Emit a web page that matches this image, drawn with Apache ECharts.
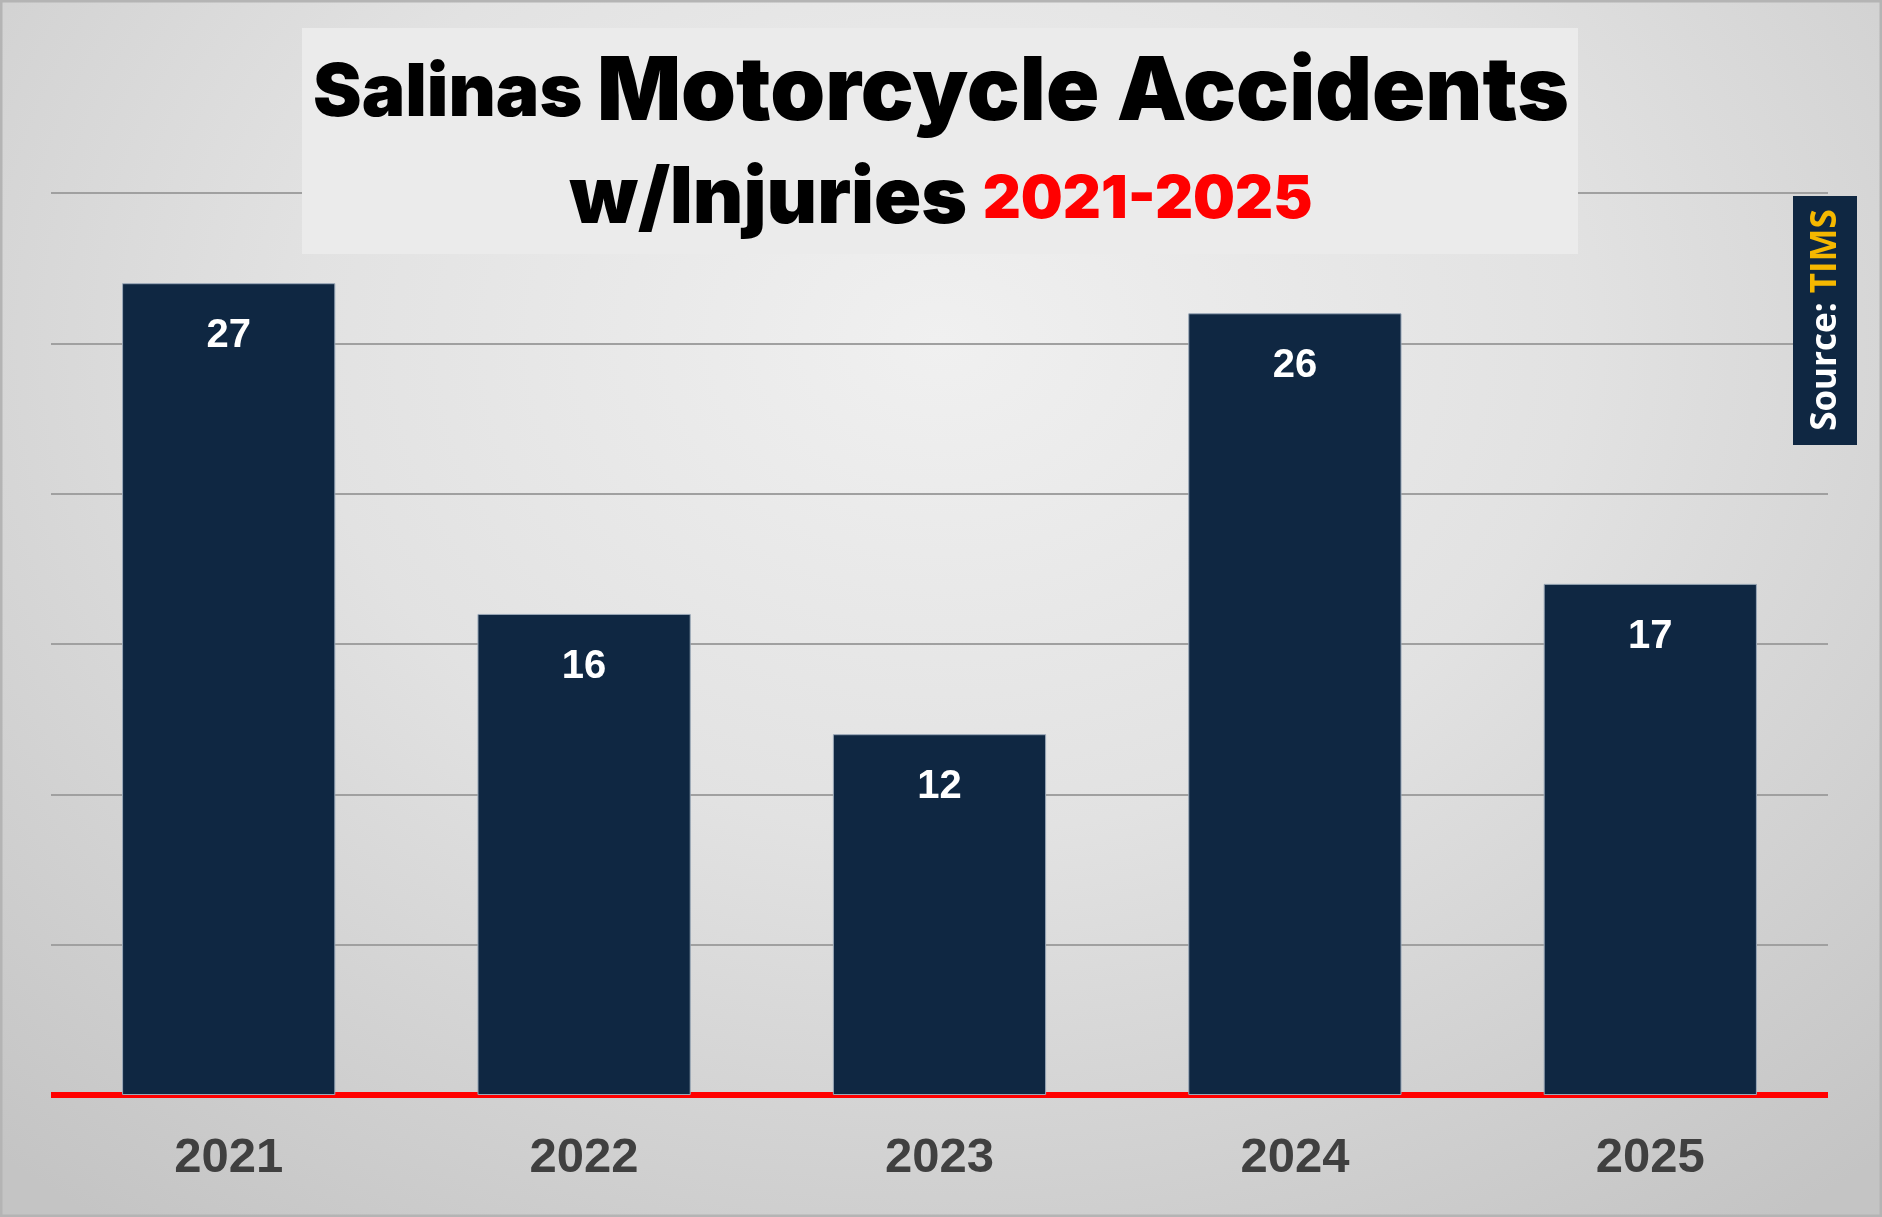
<!DOCTYPE html>
<html><head><meta charset="utf-8">
<script src="https://cdn.jsdelivr.net/npm/echarts@6/dist/echarts.min.js"></script>
<style>
html,body{margin:0;padding:0;}
body{width:1882px;height:1217px;overflow:hidden;
background:radial-gradient(ellipse 75% 90% at 50% 28%, #f0f0f0 0%, #e2e2e2 45%, #cfcfcf 80%, #c4c4c4 100%);}
#c{width:1882px;height:1217px;}
</style></head>
<body><div id="c"></div>
<script>
const categories = ['2021','2022','2023','2024','2025'];
const accidents = [27, 16, 12, 26, 17];
const yTicks = [0, 5, 10, 15, 20, 25, 30];

const chart = echarts.init(document.getElementById('c'), null, {renderer:'canvas'});
chart.setOption({
  backgroundColor: 'transparent',
  animation: false,
  title: {
    text: '{s|Salinas }{m|Motorcycle Accidents}\n{w|w/Injuries }{r|2021-2025}',
    left: 'center', top: 36, z: 10,
    textStyle: {
      rich: {
        s: {fontFamily:'Inter', fontWeight:900, fontSize:73, color:'#000', lineHeight:106},
        m: {fontFamily:'Inter', fontWeight:900, fontSize:88, color:'#000', lineHeight:106},
        w: {fontFamily:'Inter', fontWeight:900, fontSize:78, color:'#000', lineHeight:106},
        r: {fontFamily:'Inter', fontWeight:900, fontSize:59, color:'#ff0000', lineHeight:106}
      }
    }
  },
  graphic: [
    {type:'rect', z: 5, shape:{x:302, y:28, width:1276, height:226}, style:{fill:'#ebebeb'}},
    {type:'rect', z: 5, shape:{x:1793, y:196, width:64, height:249}, style:{fill:'#0f2742'}},
    {type:'text', z: 6, x:1826, y:320, rotation: Math.PI/2,
      style:{text:'{a|Source: }{b|TIMS}', align:'center', verticalAlign:'middle',
        rich:{a:{fill:'#ffffff', fontFamily:'Open Sans', fontWeight:'bold', fontSize:35},
              b:{fill:'#f5b800', fontFamily:'Open Sans', fontWeight:'bold', fontSize:35}}}},
    {type:'rect', z: 0, silent:true, shape:{x:1, y:1, width:1880, height:1215}, style:{fill:'none', stroke:'#b4b4b4', lineWidth:3}}
  ],
  grid: {left:51, right:54, top:193, bottom:122},
  xAxis: {
    type:'category', data: categories,
    axisLine:{show:true, lineStyle:{color:'#ff0000', width:6, cap:'butt'}},
    axisTick:{show:false},
    axisLabel:{color:'#404040', fontFamily:'Liberation Sans', fontWeight:'bold', fontSize:49, margin:39}
  },
  yAxis: {
    type:'value', min: yTicks[0], max: yTicks[yTicks.length-1], interval: 5,
    axisLabel:{show:false}, axisLine:{show:false}, axisTick:{show:false},
    splitLine:{lineStyle:{color:'#a0a0a0', width:2}}
  },
  series: [{
    type:'bar', data: accidents, barCategoryGap:'40%',
    itemStyle:{color:'#0f2742', borderColor:'#9aa8b8', borderWidth:1},
    label:{show:true, position:'insideTop', distance:33, color:'#ffffff',
      fontFamily:'Liberation Sans', fontWeight:'bold', fontSize:40}
  }]
});
</script></body></html>
